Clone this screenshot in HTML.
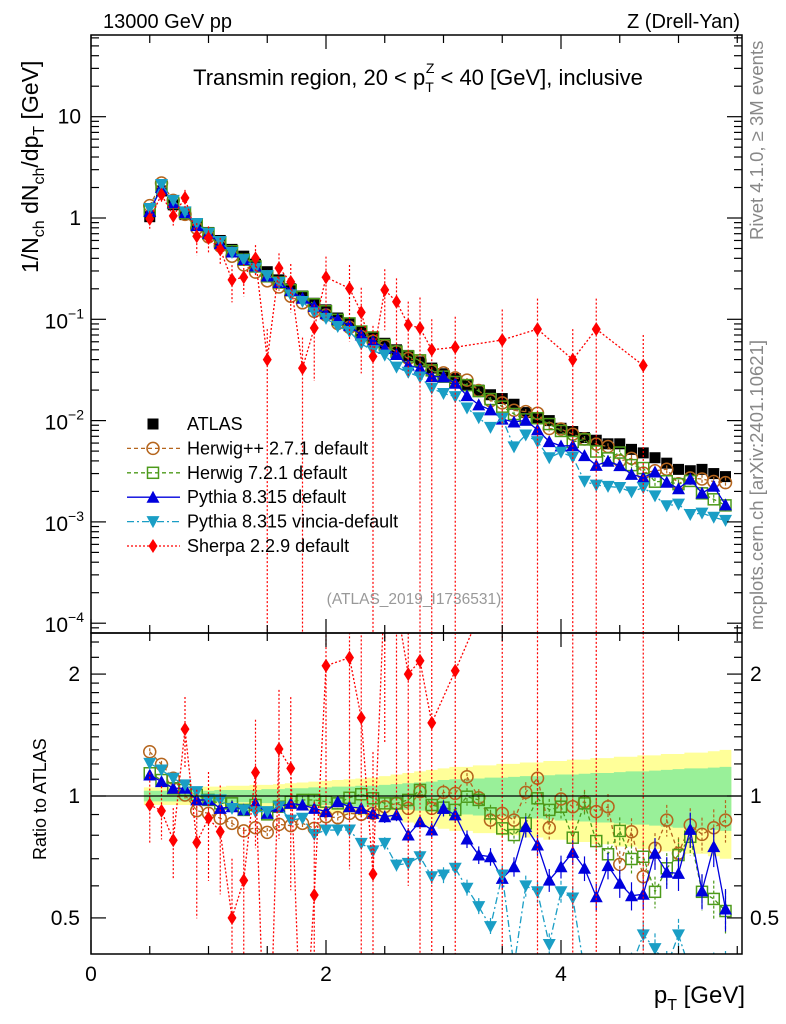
<!DOCTYPE html>
<html><head><meta charset="utf-8"><style>
html,body{margin:0;padding:0;background:#fff;width:786px;height:1024px;overflow:hidden;}
svg{display:block;font-family:"Liberation Sans",sans-serif;}
</style></head><body>
<svg id="c" width="786" height="1024" viewBox="0 0 786 1024" xmlns="http://www.w3.org/2000/svg">
<defs>
<clipPath id="clipMain"><rect x="91" y="35" width="651" height="598"/></clipPath>
<clipPath id="clipRatio"><rect x="91" y="633" width="651" height="321"/></clipPath>
</defs>
<g id="bands" clip-path="url(#clipRatio)"></g>
<g id="mainMarks" clip-path="url(#clipMain)"></g>
<g id="ratioMarks" clip-path="url(#clipRatio)"></g>
<g id="axes"></g>
<text x="103" y="28" font-size="20">13000 GeV pp</text>
<text x="740" y="28" font-size="20" text-anchor="end">Z (Drell-Yan)</text>
<text x="418" y="85" font-size="22" text-anchor="middle">Transmin region, 20 &lt; p<tspan font-size="14" dy="7">T</tspan><tspan font-size="14" dx="-8" dy="-19">Z</tspan><tspan dy="12"> &lt; 40 [GeV], inclusive</tspan></text>
<text x="414" y="604" font-size="15.5" fill="#999" text-anchor="middle">(ATLAS_2019_I1736531)</text>
<text transform="translate(763,240) rotate(-90)" font-size="18.5" fill="#888">Rivet 4.1.0, ≥ 3M events</text>
<text transform="translate(763,630) rotate(-90)" font-size="18.5" fill="#888">mcplots.cern.ch [arXiv:2401.10621]</text>
<text transform="translate(38,273) rotate(-90)" font-size="23">1/N<tspan font-size="16" dy="6">ch</tspan><tspan dy="-6"> dN</tspan><tspan font-size="16" dy="6">ch</tspan><tspan dy="-6">/dp</tspan><tspan font-size="16" dy="6">T</tspan><tspan dy="-6"> [GeV]</tspan></text>
<text transform="translate(46,860) rotate(-90)" font-size="18">Ratio to ATLAS</text>
<text x="745" y="1003" font-size="24" text-anchor="end">p<tspan font-size="16" dy="7">T</tspan><tspan dy="-7"> [GeV]</tspan></text>
<g id="legend"></g>
</svg>
<script>
const xs = [0.5,0.6,0.7,0.8,0.9,1.0,1.1,1.2,1.3,1.4,1.5,1.6,1.7,1.8,1.9,2.0,2.1,2.2,2.3,2.4,2.5,2.6,2.7,2.8,2.9,3.0,3.1,3.2,3.3,3.4,3.5,3.6,3.7,3.8,3.9,4.0,4.1,4.2,4.3,4.4,4.5,4.6,4.7,4.8,4.9,5.0,5.1,5.2,5.3,5.4];
const atlas = [1.03,1.85,1.35,1.08,0.86,0.72,0.60,0.49,0.42,0.35,0.295,0.245,0.20,0.17,0.144,0.124,0.103,0.092,0.075,0.067,0.058,0.050,0.044,0.038,0.033,0.029,0.026,0.0225,0.020,0.018,0.0165,0.0145,0.012,0.0107,0.010,0.0084,0.0078,0.0068,0.0064,0.0059,0.0059,0.0052,0.0048,0.0043,0.0038,0.0033,0.0032,0.0033,0.0030,0.0028];
const bandIn = [0.03,0.03,0.03,0.03,0.03,0.03,0.035,0.035,0.035,0.035,0.04,0.04,0.045,0.045,0.05,0.05,0.055,0.055,0.06,0.06,0.065,0.07,0.075,0.08,0.085,0.095,0.1,0.1,0.105,0.11,0.11,0.115,0.12,0.12,0.125,0.13,0.13,0.135,0.14,0.14,0.145,0.15,0.15,0.155,0.16,0.165,0.17,0.17,0.175,0.18];
const bandOut = [0.05,0.05,0.05,0.05,0.05,0.055,0.055,0.06,0.06,0.065,0.065,0.07,0.075,0.08,0.085,0.09,0.095,0.1,0.105,0.11,0.12,0.13,0.14,0.15,0.16,0.17,0.18,0.18,0.19,0.19,0.2,0.2,0.21,0.21,0.22,0.22,0.23,0.23,0.24,0.24,0.25,0.25,0.26,0.26,0.27,0.27,0.28,0.28,0.29,0.30];
const ratioHwpp = [1.286,1.197,1.106,1.006,0.920,0.906,0.881,0.856,0.820,0.835,0.813,0.851,0.845,0.856,0.832,0.889,0.884,0.906,0.901,0.906,0.941,0.959,0.932,1.025,0.932,1.021,1.015,1.116,0.990,0.872,0.906,0.872,1.021,1.106,0.835,0.983,0.941,0.968,0.915,0.941,0.678,0.816,0.632,0.743,0.872,0.722,0.848,0.804,0.835,0.872];
const ratioH7 = [1.138,1.095,1.045,1.035,1.006,0.978,0.959,0.959,0.924,0.950,0.901,0.941,0.968,0.978,0.978,0.968,0.959,0.990,1.010,0.987,0.959,0.959,0.978,1.035,0.950,0.936,0.924,0.996,0.978,0.906,0.832,0.801,0.856,0.987,0.924,0.941,0.789,0.959,0.774,0.718,0.820,0.699,0.708,0.580,0.663,0.715,0.793,0.580,0.557,0.520];
const ratioPy = [1.127,1.085,1.045,1.045,0.978,0.978,0.932,0.941,0.924,0.959,0.906,0.941,0.959,0.950,0.932,0.915,0.968,0.941,0.932,0.906,0.889,0.898,0.801,0.864,0.824,0.932,0.898,0.783,0.715,0.708,0.626,0.669,0.840,0.757,0.620,0.669,0.726,0.663,0.564,0.673,0.609,0.567,0.572,0.722,0.648,0.644,0.827,0.583,0.750,0.526];
const ratioVi = [1.204,1.159,1.106,1.065,1.025,0.978,0.978,0.932,0.924,0.915,0.915,0.941,0.872,0.881,0.804,0.824,0.824,0.824,0.764,0.732,0.764,0.675,0.682,0.708,0.632,0.638,0.663,0.592,0.533,0.476,0.638,0.38,0.60,0.58,0.43,0.58,0.56,0.37,0.36,0.38,0.37,0.38,0.454,0.42,0.38,0.454,0.37,0.37,0.37,0.37];
const mcErr = [0.02,0.02,0.02,0.02,0.02,0.02,0.02,0.02,0.02,0.025,0.025,0.025,0.025,0.025,0.03,0.03,0.03,0.03,0.03,0.035,0.035,0.035,0.04,0.04,0.04,0.045,0.045,0.05,0.05,0.05,0.055,0.055,0.06,0.06,0.065,0.065,0.07,0.07,0.075,0.075,0.08,0.08,0.085,0.09,0.09,0.095,0.1,0.1,0.11,0.12];
const sherpa = [0.98,1.7,1.05,1.58,0.66,0.635,0.49,0.245,0.26,0.40,0.04,0.32,0.234,0.033,0.082,0.26,null,0.202,0.117,0.043,0.195,0.149,0.088,0.082,0.050,null,0.053,null,null,null,0.0625,null,null,0.080,null,null,0.040,null,0.080,null,null,null,0.035,null,null,null,null,null,null,null];
const sherpaErr = [0.2,0.15,0.2,0.2,0.35,0.3,0.3,0.4,0.35,0.35,1,0.4,0.5,1,0.7,0.6,null,0.7,0.75,1,0.6,0.7,0.7,1,1,null,1,null,null,null,1,null,null,1,null,null,1,null,1,null,null,null,1,null,null,null,null,null,null,null];
const xTicks = [0,2,4];
const yMainTicks = [1,0,-1,-2,-3,-4];
const yRatioTicks = [0.5,1,2];

const NS = "http://www.w3.org/2000/svg";
const X = v => 91 + 117.5 * v;
const YM = v => 218 - 101.3 * Math.log10(v);
const YR = r => 796 - 405 * Math.log10(r);
function mk(tag, attrs, parent){ const e=document.createElementNS(NS,tag); for(const k in attrs) e.setAttribute(k,attrs[k]); parent.appendChild(e); return e; }
const gM = document.getElementById('mainMarks'), gR = document.getElementById('ratioMarks'), gB = document.getElementById('bands'), gA = document.getElementById('axes'), gL = document.getElementById('legend');

function band(arr, color, nm){
  let top='', bot='';
  xs.forEach((x,i)=>{ const a=X(x-0.05), b=X(x+0.05); top+=`${a},${YR(1+arr[i])} ${b},${YR(1+arr[i])} `; bot=`${a},${YR(1-arr[i])} ${b},${YR(1-arr[i])} `.split(' ').filter(s=>s).reverse().join(' ')+' '+bot; });
  const p = mk('polygon',{points: top+bot, fill: color}, gB);
  
  
}
band(bandOut,'#ffff99','band-outer');
band(bandIn,'#99f099','band-inner');

function marker(g, type, cx, cy, color){
  let e;
  if(type==='sq') e=mk('rect',{x:cx-5.5,y:cy-5.5,width:11,height:11,fill:'#000'},g);
  else if(type==='osq') e=mk('rect',{x:cx-5.5,y:cy-5.5,width:11,height:11,fill:'none',stroke:color,'stroke-width':1.5},g);
  else if(type==='circ') e=mk('circle',{cx:cx,cy:cy,r:6,fill:'none',stroke:color,'stroke-width':1.5},g);
  else if(type==='up') e=mk('polygon',{points:`${cx},${cy-6.5} ${cx+6.5},${cy+5.5} ${cx-6.5},${cy+5.5}`,fill:color},g);
  else if(type==='dn') e=mk('polygon',{points:`${cx},${cy+6.5} ${cx+6.5},${cy-5.5} ${cx-6.5},${cy-5.5}`,fill:color},g);
  else if(type==='dia') e=mk('polygon',{points:`${cx},${cy-7} ${cx+4.5},${cy} ${cx},${cy+7} ${cx-4.5},${cy}`,fill:color},g);
  return e;
}

const series = [
  {nm:'herwigpp', ratio:ratioHwpp, color:'#b5651d', m:'circ', dash:'4,3', lbl:'Herwig++ 2.7.1 default'},
  {nm:'herwig7', ratio:ratioH7, color:'#4c9a1a', m:'osq', dash:'4,3', lbl:'Herwig 7.2.1 default'},
  {nm:'pythia', ratio:ratioPy, color:'#0000dd', m:'up', dash:'', lbl:'Pythia 8.315 default'},
  {nm:'vincia', ratio:ratioVi, color:'#1a9ec5', m:'dn', dash:'7,3,2,3', lbl:'Pythia 8.315 vincia-default'}
];

function drawSeries(g, vals, errs, color, m, dash, Y, bottom, nm){
  const pts=[];
  vals.forEach((v,i)=>{ if(v!=null) pts.push([X(xs[i]), Y(v)]); });
  const line = mk('polyline',{points:pts.map(p=>p.join(',')).join(' '),fill:'none',stroke:color,'stroke-width':1.3},g);
  if(dash) line.setAttribute('stroke-dasharray',dash);
  
  
  vals.forEach((v,i)=>{
    if(v==null) return;
    const cx=X(xs[i]), e=errs[i];
    const yt=Y(v*(1+e)), yb=(1-e)>0.001?Y(v*(1-e)):bottom;
    const eb=mk('line',{x1:cx,x2:cx,y1:yt,y2:yb,stroke:color,'stroke-width':1.2},g);
    if(dash) eb.setAttribute('stroke-dasharray', dash==='4,3'?'3,2':(dash==='2,2'?'2,2':'4,2'));
    
    
    const mm=marker(g,m,cx,Y(v),color);
    
    
  });
}

atlas.forEach((v,i)=>{
  const mm=marker(gM,'sq',X(xs[i]),YM(v),'#000');
  
  
});
series.forEach(s=>{
  const vals = s.ratio.map((r,i)=>r*atlas[i]);
  drawSeries(gM, vals, mcErr, s.color, s.m, s.dash, YM, 640, s.nm);
  drawSeries(gR, s.ratio, mcErr, s.color, s.m, s.dash, YR, 960, s.nm+'-ratio');
});
drawSeries(gM, sherpa, sherpaErr, '#ff0000', 'dia', '2,2', YM, 640, 'sherpa');
const sherpaRatio = sherpa.map((v,i)=>v==null?null:v/atlas[i]);
drawSeries(gR, sherpaRatio, sherpaErr, '#ff0000', 'dia', '2,2', YR, 960, 'sherpa-ratio');

const rl = mk('line',{x1:91,x2:742,y1:YR(1),y2:YR(1),stroke:'#000','stroke-width':1.2},gA);



[[35,633,'main-frame'],[633,954,'ratio-frame']].forEach(f=>{
  const r=mk('rect',{x:91,y:f[0],width:651,height:f[1]-f[0],fill:'none',stroke:'#000','stroke-width':1.5},gA);
  
  
});

for(let k=0;k<=11;k++){
  const v=k*0.5; const px=X(v); if(px>742) break;
  const major = xTicks.includes(v); const L = major?14:8;
  [[633,-1],[35,1],[954,-1],[633,1]].forEach(([y0,d])=>{ mk('line',{x1:px,x2:px,y1:y0,y2:y0+d*L,stroke:'#000','stroke-width':1.2},gA); });
}
xTicks.forEach(v=>{
  const t=mk('text',{x:X(v),y:981,'font-size':21,'text-anchor':'middle'},gA); t.textContent=String(v);
  
  
});

for(let d=-5; d<=1; d++){
  for(let m=1;m<=9;m++){
    const v=m*Math.pow(10,d); const py=YM(v); if(py<35||py>633) continue;
    const L = m===1?15:8;
    mk('line',{x1:91,x2:91+L,y1:py,y2:py,stroke:'#000','stroke-width':1.2},gA);
    mk('line',{x1:742,x2:742-L,y1:py,y2:py,stroke:'#000','stroke-width':1.2},gA);
  }
}
yMainTicks.forEach(d=>{
  const py=YM(Math.pow(10,d));
  let t;
  if(d===1){ t=mk('text',{x:81,y:py+7,'font-size':21,'text-anchor':'end'},gA); t.textContent='10'; }
  else if(d===0){ t=mk('text',{x:81,y:py+7,'font-size':21,'text-anchor':'end'},gA); t.textContent='1'; }
  else { t=mk('text',{x:84,y:py+9,'font-size':21,'text-anchor':'end'},gA);
    const a=document.createElementNS(NS,'tspan'); a.textContent='10'; t.appendChild(a);
    const b=document.createElementNS(NS,'tspan'); b.setAttribute('font-size','14'); b.setAttribute('dy','-10'); b.textContent='−'+(-d); t.appendChild(b); }
  
  
});

const rMinor=[0.4,0.6,0.7,0.8,0.9,1.1,1.2,1.3,1.4,1.5,1.6,1.7,1.8,1.9,2.2,2.4];
rMinor.forEach(r=>{ const py=YR(r); if(py<633||py>954) return;
  mk('line',{x1:91,x2:99,y1:py,y2:py,stroke:'#000','stroke-width':1.2},gA);
  mk('line',{x1:742,x2:734,y1:py,y2:py,stroke:'#000','stroke-width':1.2},gA); });
yRatioTicks.forEach(r=>{ const py=YR(r);
  mk('line',{x1:91,x2:106,y1:py,y2:py,stroke:'#000','stroke-width':1.2},gA);
  mk('line',{x1:742,x2:727,y1:py,y2:py,stroke:'#000','stroke-width':1.2},gA);
  const t=mk('text',{x:80,y:py+7,'font-size':21,'text-anchor':'end'},gA); t.textContent=String(r);
  
  
  const t2=mk('text',{x:750,y:py+7,'font-size':21},gA); t2.textContent=String(r);
  
  
});

const legItems=[{lbl:'ATLAS',m:'sq',color:'#000',dash:null,nm:'atlas'}].concat(series).concat([{lbl:'Sherpa 2.2.9 default',m:'dia',color:'#ff0000',dash:'2,2',nm:'sherpa'}]);
legItems.forEach((it,k)=>{
  const y=424+k*24.4;
  const g=mk('g',{},gL);
  
  
  if(it.dash!==null){ const l=mk('line',{x1:127,x2:180,y1:y,y2:y,stroke:it.color,'stroke-width':1.3},g); if(it.dash) l.setAttribute('stroke-dasharray',it.dash); }
  marker(g,it.m,153,y,it.color);
  const t=mk('text',{x:187,y:y+6,'font-size':18},g); t.textContent=it.lbl;
});
</script>
</body></html>
